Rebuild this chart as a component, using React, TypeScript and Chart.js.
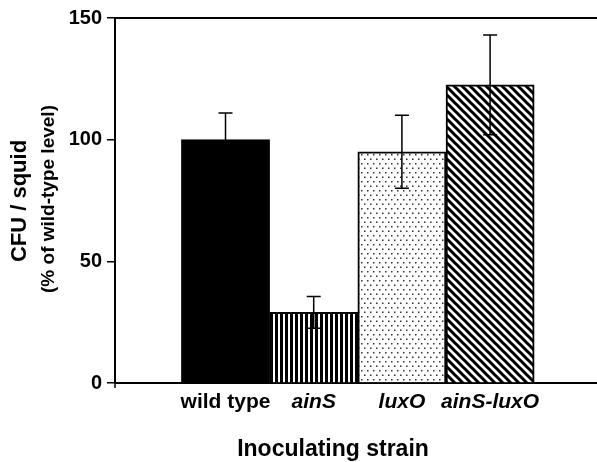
import React, { useEffect, useRef } from "react";
import { Chart, registerables } from "chart.js";

Chart.register(...registerables);

const categories = ["wild type", "ainS", "luxO", "ainS-luxO"];
const xPositions = [1, 2, 3, 4];
const values = [100, 29, 95, 122.5];
const errors = [11, 6.5, 15, 20.5];
const yTicks = [0, 50, 100, 150];
const yTitle = "CFU / squid";
const ySubTitle = "(% of wild-type level)";
const xTitle = "Inoculating strain";

const FONT = "'Liberation Sans', Arial, Helvetica, sans-serif";

function makePattern(kind: string): CanvasPattern | string {
  if (kind === "solid") return "#000";
  const c = document.createElement("canvas");
  const g = c.getContext("2d")!;
  if (kind === "vstripes") {
    c.width = 5; c.height = 5;
    g.fillStyle = "#fff"; g.fillRect(0, 0, 5, 5);
    g.fillStyle = "#000"; g.fillRect(0, 0, 3, 5);
  } else if (kind === "dots") {
    c.width = 6; c.height = 9;
    g.fillStyle = "#fff"; g.fillRect(0, 0, 6, 9);
    g.fillStyle = "#333";
    g.fillRect(1, 1, 1.5, 1.5);
    g.fillRect(4, 5.5, 1.5, 1.5);
  } else if (kind === "diag") {
    c.width = 8; c.height = 8;
    g.fillStyle = "#fff"; g.fillRect(0, 0, 8, 8);
    g.strokeStyle = "#000"; g.lineWidth = 3;
    g.beginPath();
    g.moveTo(-2, -2); g.lineTo(10, 10);
    g.moveTo(-10, -2); g.lineTo(2, 10);
    g.moveTo(6, -2); g.lineTo(18, 10);
    g.stroke();
  }
  return g.createPattern(c, "repeat")!;
}

const fills = ["solid", "vstripes", "dots", "diag"];

const decorPlugin = {
  id: "decor",
  afterDatasetsDraw(chart: any) {
    const { ctx, chartArea, scales } = chart;
    const xs = scales.x, ys = scales.y;
    ctx.save();
    // error bars
    ctx.strokeStyle = "#000";
    ctx.lineWidth = 1.5;
    values.forEach((v, i) => {
      const px = xs.getPixelForValue(xPositions[i]);
      const top = ys.getPixelForValue(v + errors[i]);
      const bot = ys.getPixelForValue(v - errors[i]);
      ctx.beginPath();
      ctx.moveTo(px, top); ctx.lineTo(px, bot);
      ctx.moveTo(px - 7, top); ctx.lineTo(px + 7, top);
      ctx.moveTo(px - 7, bot); ctx.lineTo(px + 7, bot);
      ctx.stroke();
    });
    // top frame line
    ctx.lineWidth = 2;
    ctx.beginPath();
    ctx.moveTo(chartArea.left, chartArea.top);
    ctx.lineTo(chartArea.right, chartArea.top);
    ctx.stroke();
    // small tick below x axis at origin
    ctx.lineWidth = 1.5;
    ctx.beginPath();
    ctx.moveTo(chartArea.left, chartArea.bottom);
    ctx.lineTo(chartArea.left, chartArea.bottom + 5);
    ctx.stroke();
    // titles
    ctx.fillStyle = "#000";
    ctx.textAlign = "center";
    ctx.textBaseline = "middle";
    ctx.font = `bold 23px ${FONT}`;
    ctx.fillText(xTitle, 333, 450);
    ctx.translate(20, 201);
    ctx.rotate(-Math.PI / 2);
    ctx.font = `bold 22px ${FONT}`;
    ctx.fillText(yTitle, 0, 0);
    ctx.font = `bold 19px ${FONT}`;
    ctx.fillText(ySubTitle, 2, 29);
    ctx.restore();
  },
};

export default function App() {
  const ref = useRef<HTMLCanvasElement>(null);
  useEffect(() => {
    const canvas = ref.current!;
    const chart = new Chart(canvas, {
      type: "bar",
      data: {
        datasets: [
          {
            data: xPositions.map((x, i) => ({ x, y: values[i] })),
            backgroundColor: fills.map(makePattern) as any,
            borderColor: "#000",
            borderWidth: 2,
            categoryPercentage: 1,
            barPercentage: 1,
          },
        ],
      },
      options: {
        animation: false,
        responsive: false,
        devicePixelRatio: 1,
        layout: { padding: { left: 0, top: 18, right: 0, bottom: 0 } },
        plugins: { legend: { display: false }, tooltip: { enabled: false } },
        scales: {
          x: {
            type: "linear",
            offset: false,
            min: -0.253,
            max: 5.212,
            grid: { display: false, drawTicks: false },
            border: { display: true, color: "#000", width: 2 },
            afterBuildTicks: (s: any) => {
              s.ticks = xPositions.map((v) => ({ value: v }));
            },
            afterFit: (s: any) => {
              s.height = 79;
            },
            ticks: {
              padding: 7,
              color: "#000",
              maxRotation: 0,
              autoSkip: false,
              callback: (_v: any, i: number) => categories[i],
              font: (ctx: any) => ({
                family: FONT,
                size: 21,
                weight: "bold",
                style: ctx.index === 0 ? "normal" : "italic",
              }),
            },
          },
          y: {
            min: 0,
            max: 150,
            afterBuildTicks: (s: any) => {
              s.ticks = yTicks.map((v) => ({ value: v }));
            },
            afterFit: (s: any) => {
              s.width = 115;
            },
            grid: {
              drawOnChartArea: false,
              drawTicks: true,
              tickLength: 8,
              color: "#000",
              lineWidth: 1.5,
            },
            border: { display: true, color: "#000", width: 2 },
            ticks: {
              padding: 5,
              color: "#000",
              font: { family: FONT, size: 20, weight: "bold" },
            },
          },
        },
      },
      plugins: [decorPlugin],
    });
    return () => chart.destroy();
  }, []);
  return (
    <div style={{ position: "absolute", left: 0, top: 0, width: 597, height: 462, background: "#fff" }}>
      <canvas ref={ref} width={597} height={462} />
    </div>
  );
}
